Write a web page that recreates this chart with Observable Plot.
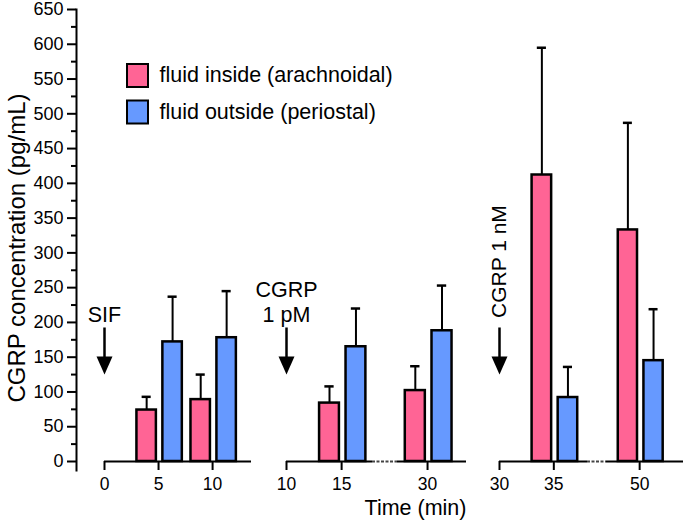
<!DOCTYPE html>
<html><head><meta charset="utf-8">
<script src="https://cdn.jsdelivr.net/npm/d3@7"></script>
<script src="https://cdn.jsdelivr.net/npm/@observablehq/plot@0.6"></script>
<style>body{margin:0;background:#fff} #chart svg{display:block}</style>
</head><body><div id="chart"></div>
<script>
// ---- data ----
const times = [5, 10, 15, 30, 35, 50];
const panelOf = [0, 0, 1, 1, 2, 2];
const inside = [74, 89, 84, 102, 412, 333];
const insideErr = [19, 36, 24, 35, 183, 154];
const outside = [172, 178, 165, 188, 92, 145];
const outsideErr = [65, 67, 55, 65, 44, 74];
const seriesNames = ["fluid inside (arachnoidal)", "fluid outside (periostal)"];
const seriesColors = ["#ff6495", "#6699ff"];
const stimTimes = [0, 10, 30];
const stimPanels = [0, 1, 2];
const stimLabels = ["SIF", "CGRP\n1 pM", "CGRP 1 nM"];
const yTicks = d3.range(0, 651, 50);
const yMinorTicks = d3.range(25, 651, 50);
const yLabel = "CGRP concentration (pg/mL)";
const xLabel = "Time (min)";

// ---- layout (broken time axis: key = panel*100 + time) ----
const keyOf = (p, t) => p * 100 + t;
const solidSegs = [[0, 13.6], [110, 117.8], [127.3, 133.5], [230, 238.1], [246.9, 254.1]];
const dottedSegs = [[117.8, 127.3], [238.1, 246.9]];
const xDomain = solidSegs.flat();
const xRange = [104, 251, 286, 372, 397, 466, 499, 587, 606, 683];
const barOffsets = [[-2.0, -0.2], [0.4, 2.2]];

const rows = [];
times.forEach((t, i) => {
  const k = keyOf(panelOf[i], t);
  rows.push({s: 0, key: k, value: inside[i], top: inside[i] + insideErr[i]});
  rows.push({s: 1, key: k, value: outside[i], top: outside[i] + outsideErr[i]});
});
rows.forEach(r => {
  r.x1 = r.key + barOffsets[r.s][0];
  r.x2 = r.key + barOffsets[r.s][1];
  r.xc = (r.x1 + r.x2) / 2;
});

const xTicks = [];
stimPanels.forEach((p, j) => {
  xTicks.push(keyOf(p, stimTimes[j]));
  times.forEach((t, i) => { if (panelOf[i] === p) xTicks.push(keyOf(p, t)); });
});

const stim = stimLabels.map((label, j) => ({label, key: keyOf(stimPanels[j], stimTimes[j]), rot: label.indexOf("\n") < 0 && label.length > 5}));
const arrowTop = 192, arrowTip = 125;

const headDown = {draw(ctx) { ctx.moveTo(-8, -18); ctx.lineTo(8, -18); ctx.lineTo(0, 0); ctx.closePath(); }};
const legendBox = {draw(ctx) { ctx.rect(-10.5, -11.5, 21, 23); }};

const font = "'Liberation Sans', Arial, Helvetica, sans-serif";

const legendMarks = seriesNames.flatMap((name, i) => [
  Plot.dot([name], {frameAnchor: "top-left", dx: 61, dy: 66 + i * 36.5, symbol: legendBox, fill: seriesColors[i], stroke: "black", strokeWidth: 2}),
  Plot.text([name], {frameAnchor: "top-left", dx: 83, dy: 66 + i * 36.5, text: d => d, textAnchor: "start", lineAnchor: "middle", fontSize: 21.5, fill: "black"})
]);

const chart = Plot.plot({
  width: 685, height: 523,
  marginLeft: 76, marginRight: 0, marginTop: 9, marginBottom: 53,
  style: {fontFamily: font, fontSize: "17px", color: "black", background: "white"},
  x: {type: "linear", domain: xDomain, range: xRange},
  y: {domain: [0, 650], range: [461, 9]},
  marks: [
    Plot.frame({anchor: "left", strokeWidth: 2, stroke: "black"}),
    Plot.axisY(yTicks, {tickSize: 9, tickPadding: 4, strokeWidth: 2, fontSize: 18, label: null}),
    Plot.axisY(yMinorTicks, {tickSize: 5, strokeWidth: 2, tickFormat: () => "", label: null}),
    Plot.ruleY(solidSegs, {x1: d => d[0], x2: d => d[1], y: 0, stroke: "black", strokeWidth: 2}),
    Plot.ruleY(dottedSegs, {x1: d => d[0], x2: d => d[1], y: 0, stroke: "#444", strokeWidth: 2, strokeDasharray: "3,1.5"}),
    Plot.axisX(xTicks, {tickSize: 9, dy: -9, tickPadding: 7, strokeWidth: 2, fontSize: 17.5, tickFormat: d => d % 100, label: null}),
    // error bars
    Plot.ruleX(rows, {x: "xc", y1: "value", y2: "top", stroke: "black", strokeWidth: 2}),
    Plot.ruleY(rows, {x1: d => d.xc - 0.42, x2: d => d.xc + 0.42, y: "top", stroke: "black", strokeWidth: 2.5}),
    // bars
    Plot.rectY(rows, {x1: "x1", x2: "x2", y1: 0, y2: "value", fill: d => seriesColors[d.s], stroke: "black", strokeWidth: 2.5}),
    // stimulus arrows
    Plot.ruleX(stim, {x: "key", y1: arrowTop, y2: arrowTip + 10, stroke: "black", strokeWidth: 2.5}),
    Plot.dot(stim, {x: "key", y: arrowTip, symbol: headDown, fill: "black", stroke: "none"}),
    Plot.text(stim.filter(d => !d.rot), {x: "key", y: arrowTop, text: "label", lineAnchor: "bottom", dy: -6, fontSize: 21.5, lineHeight: 1.15, fill: "black"}),
    Plot.text(stim.filter(d => d.rot), {x: "key", y: arrowTop, text: "label", rotate: -90, textAnchor: "start", lineAnchor: "middle", dy: -10, fontSize: 21, fill: "black"}),
    // axis titles
    Plot.text([yLabel], {frameAnchor: "left", rotate: -90, textAnchor: "middle", lineAnchor: "middle", dx: -59, dy: 8, text: d => d, fontSize: 24, fill: "black"}),
    Plot.text([xLabel], {frameAnchor: "bottom", dx: 34.5, dy: 38, text: d => d, lineAnchor: "middle", fontSize: 21.5, fill: "black"}),
    ...legendMarks
  ]
});
document.getElementById("chart").appendChild(chart);
</script>
</body></html>
